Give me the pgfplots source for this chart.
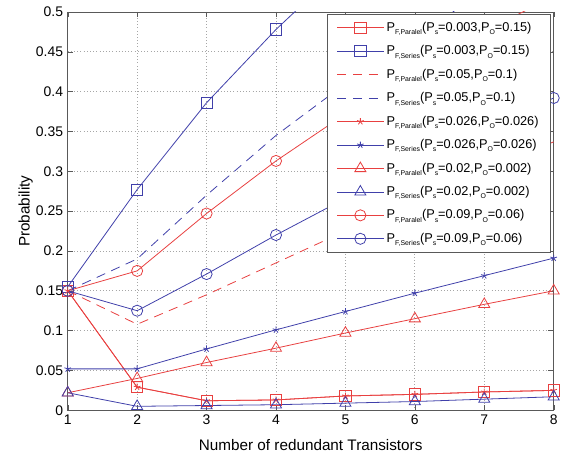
\documentclass[border=0pt]{standalone}
\usepackage{fontspec}
\setmainfont{Liberation Sans}
\usepackage{pgfplots}
\pgfplotsset{compat=1.18}
\definecolor{mred}{RGB}{232,64,64}
\definecolor{mblue}{RGB}{64,64,170}
\newcommand{\sub}[1]{\raisebox{-0.5ex}{\fontsize{5.2}{6}\selectfont #1}}
\newcommand{\lab}[3]{P\sub{F,#1}(P\sub{s}=#2,P\sub{O}=#3)}
\begin{document}
\begin{tikzpicture}
\begin{axis}[
    name=ax,
    width=366pt, height=300pt,
    scale only axis,
    xmin=1, xmax=8, ymin=0, ymax=0.5,
    xtick={1,...,8},
    ytick={0,0.05,...,0.5},
    yticklabels={0,0.05,0.1,0.15,0.2,0.25,0.3,0.35,0.4,0.45,0.5},
    tick align=inside,
    major tick length=4pt,
    axis line style={gray!70!black},
    tick style={gray!70!black},
    grid=major,
    grid style={dotted, gray!70, line width=0.6pt},
    xlabel={Number of redundant Transistors},
    ylabel={Probability},
    xlabel style={font=\fontsize{11.5}{13}\selectfont, yshift=-4pt},
    ylabel style={font=\fontsize{11.5}{13}\selectfont, yshift=-4.5pt},
    ticklabel style={font=\fontsize{10.5}{12}\selectfont},
    /pgf/number format/assume math mode=true,
    every axis plot/.append style={line width=0.6pt},
    every axis plot post/.append style={
        legend image code/.code={\draw[mark repeat=2,mark phase=2,##1] plot coordinates {(0pt,0pt) (17.5pt,0pt) (35pt,0pt)};}},
    legend style={at={(1,1)}, anchor=north east, xshift=-2.2pt, yshift=-1.5pt,
        font=\fontsize{9.6}{11}\selectfont, draw=gray!70!black, row sep=5.2pt,
        inner xsep=7pt, inner ysep=4pt},
    legend cell align=left,
]
% P_s=0.003, P_O=0.15
\addplot[mred, mark=square, mark size=4.2pt] coordinates {(1,0.150) (2,0.029) (3,0.012) (4,0.013) (5,0.018) (6,0.020) (7,0.023) (8,0.025)};
\addplot[mblue, mark=square, mark size=4.2pt] coordinates {(1,0.155) (2,0.277) (3,0.386) (4,0.478) (5,0.560) (6,0.630) (7,0.690) (8,0.740)};
% P_s=0.05, P_O=0.1
\addplot[mred, dash pattern=on 7pt off 5pt] coordinates {(1,0.150) (2,0.108) (3,0.145) (4,0.185) (5,0.225) (6,0.262) (7,0.300) (8,0.337)};
\addplot[mblue, dash pattern=on 7pt off 5pt] coordinates {(1,0.150) (2,0.190) (3,0.270) (4,0.345) (5,0.410) (6,0.470) (7,0.525) (8,0.575)};
% P_s=0.026, P_O=0.026
\addplot[mred, mark=star, mark size=2.6pt] coordinates {(1,0.150) (2,0.029) (3,0.012) (4,0.013) (5,0.018) (6,0.020) (7,0.023) (8,0.025)};
\addplot[mblue, mark=star, mark size=2.6pt] coordinates {(1,0.052) (2,0.052) (3,0.077) (4,0.101) (5,0.124) (6,0.147) (7,0.169) (8,0.191)};
% P_s=0.02, P_O=0.002
\addplot[mred, mark=triangle, mark size=4.8pt] coordinates {(1,0.022) (2,0.040) (3,0.060) (4,0.078) (5,0.097) (6,0.115) (7,0.133) (8,0.150)};
\addplot[mblue, mark=triangle, mark size=4.8pt] coordinates {(1,0.022) (2,0.005) (3,0.006) (4,0.007) (5,0.009) (6,0.011) (7,0.014) (8,0.017)};
% P_s=0.09, P_O=0.06
\addplot[mred, mark=o, mark size=4.2pt] coordinates {(1,0.150) (2,0.175) (3,0.247) (4,0.313) (5,0.372) (6,0.425) (7,0.475) (8,0.520)};
\addplot[mblue, mark=o, mark size=4.2pt] coordinates {(1,0.150) (2,0.125) (3,0.171) (4,0.220) (5,0.266) (6,0.310) (7,0.351) (8,0.392)};
\legend{\lab{Paralel}{0.003}{0.15}, \lab{Series}{0.003}{0.15},
        \lab{Paralel}{0.05}{0.1}, \lab{Series}{0.05}{0.1},
        \lab{Paralel}{0.026}{0.026}, \lab{Series}{0.026}{0.026},
        \lab{Paralel}{0.02}{0.002}, \lab{Series}{0.02}{0.002},
        \lab{Paralel}{0.09}{0.06}, \lab{Series}{0.09}{0.06}}
\end{axis}
\path (ax.south west) ++(-51pt,-37.5pt);
\path (ax.north east) ++(4.5pt,9pt);
\end{tikzpicture}
\end{document}
